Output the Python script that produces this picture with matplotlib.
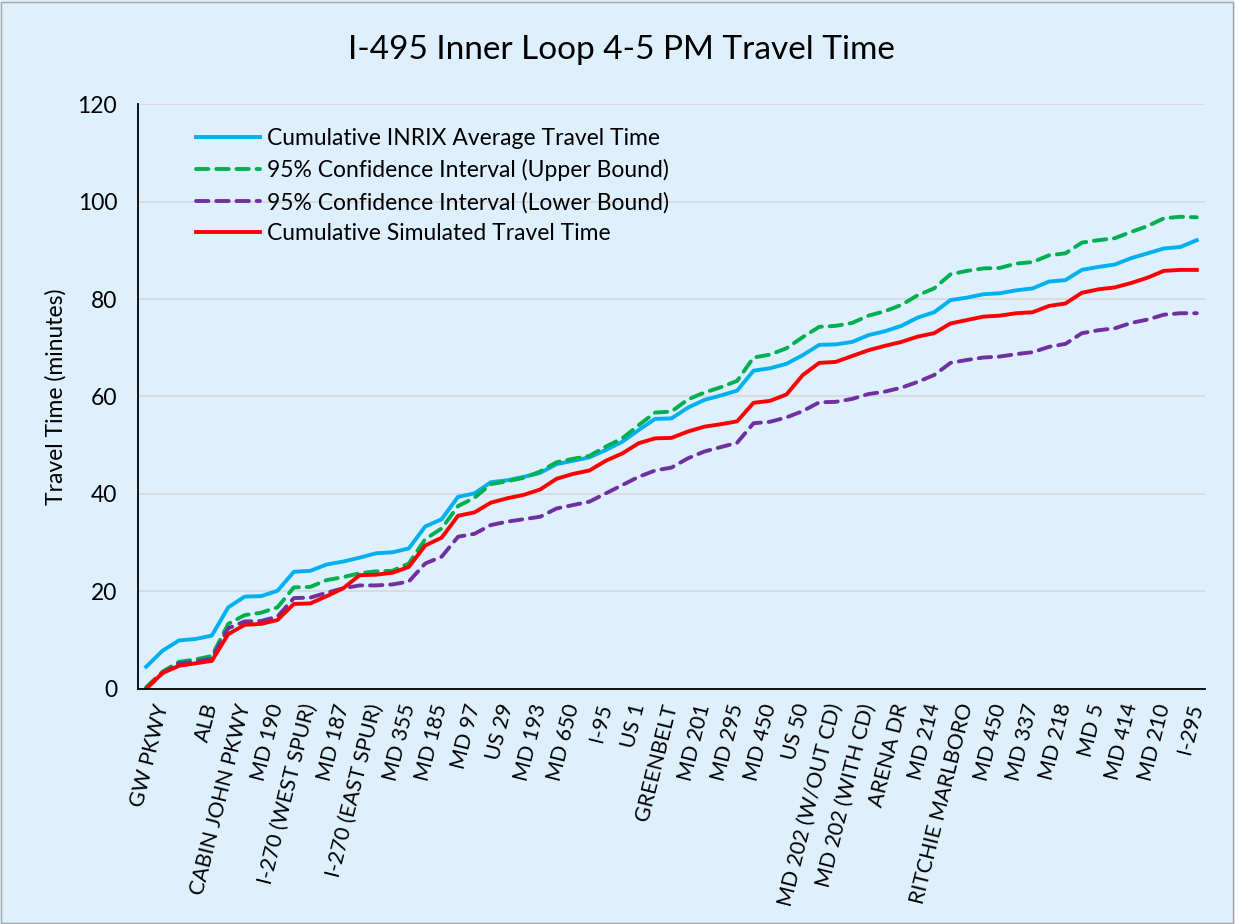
import matplotlib.pyplot as plt
from matplotlib.patches import Rectangle

# cumulative travel time (minutes) at each of the 65 segment boundaries
inrix_avg = [4.5, 7.8, 9.9, 10.2, 10.9, 16.7, 18.9, 19.0, 20.1, 24.0,
             24.2, 25.5, 26.1, 26.9, 27.8, 28.0, 28.8, 33.3, 34.8, 39.4,
             40.1, 42.4, 42.8, 43.5, 44.3, 46.1, 46.8, 47.5, 49.0, 50.7,
             53.1, 55.4, 55.5, 57.7, 59.3, 60.2, 61.2, 65.3, 65.8, 66.7,
             68.5, 70.6, 70.7, 71.2, 72.6, 73.4, 74.5, 76.2, 77.3, 79.8,
             80.3, 81.0, 81.2, 81.8, 82.2, 83.6, 83.9, 86.0, 86.6, 87.1,
             88.4, 89.4, 90.4, 90.7, 92.1]
ci_upper = [0.3, 3.5, 5.5, 6.0, 6.7, 13.3, 15.1, 15.6, 16.7, 20.8,
            20.9, 22.3, 22.9, 23.7, 24.1, 24.2, 25.7, 30.7, 32.9, 37.5,
            39.2, 42.0, 42.6, 43.3, 44.6, 46.5, 47.2, 47.8, 49.7, 51.4,
            54.1, 56.7, 56.9, 59.4, 60.8, 61.9, 63.2, 68.0, 68.6, 69.9,
            72.2, 74.3, 74.5, 75.1, 76.6, 77.5, 78.8, 80.8, 82.2, 85.1,
            85.8, 86.3, 86.4, 87.3, 87.6, 89.0, 89.4, 91.6, 92.1, 92.5,
            93.8, 95.0, 96.6, 96.9, 96.8]
ci_lower = [0.0, 3.2, 5.2, 5.5, 6.2, 12.4, 13.8, 13.9, 14.8, 18.6,
            18.7, 19.7, 20.6, 21.2, 21.2, 21.4, 22.0, 25.7, 27.1, 31.2,
            31.8, 33.6, 34.3, 34.8, 35.3, 37.0, 37.7, 38.4, 40.1, 41.8,
            43.5, 44.8, 45.4, 47.3, 48.7, 49.6, 50.5, 54.5, 54.8, 55.7,
            57.0, 58.8, 58.9, 59.5, 60.5, 61.0, 61.8, 63.0, 64.4, 66.9,
            67.5, 68.0, 68.2, 68.7, 69.1, 70.2, 70.8, 73.0, 73.6, 74.0,
            75.1, 75.8, 76.8, 77.1, 77.1]
simulated = [0.0, 3.2, 4.7, 5.2, 5.7, 11.2, 13.1, 13.3, 14.1, 17.4,
             17.5, 19.0, 20.6, 23.3, 23.4, 23.8, 25.0, 29.4, 31.0, 35.5,
             36.2, 38.2, 39.1, 39.8, 40.9, 43.1, 44.1, 44.8, 46.8, 48.3,
             50.4, 51.4, 51.5, 52.8, 53.8, 54.3, 54.9, 58.7, 59.1, 60.4,
             64.4, 66.9, 67.1, 68.3, 69.5, 70.4, 71.2, 72.3, 73.0, 75.0,
             75.7, 76.4, 76.6, 77.1, 77.3, 78.6, 79.1, 81.3, 82.0, 82.4,
             83.3, 84.4, 85.8, 86.0, 86.0]

# interchange names and the segment index they sit on
interchange_idx = [1, 4, 6, 8, 10, 12, 14, 16, 18, 20, 22, 24, 26, 28, 30, 32,
                   34, 36, 38, 40, 42, 44, 46, 48, 50, 52, 54, 56, 58, 60, 62, 64]
interchanges = ['GW PKWY', 'ALB', 'CABIN JOHN PKWY', 'MD 190', 'I-270 (WEST SPUR)',
                'MD 187', 'I-270 (EAST SPUR)', 'MD 355', 'MD 185', 'MD 97', 'US 29',
                'MD 193', 'MD 650', 'I-95', 'US 1', 'GREENBELT', 'MD 201', 'MD 295',
                'MD 450', 'US 50', 'MD 202 (W/OUT CD)', 'MD 202 (WITH CD)', 'ARENA DR',
                'MD 214', 'RITCHIE MARLBORO', 'MD 450', 'MD 337', 'MD 218', 'MD 5',
                'MD 414', 'MD 210', 'I-295']

plt.rcParams['font.family'] = ['Lato', 'DejaVu Sans']
bg = '#DEEFFD'

fig = plt.figure(figsize=(12.35, 9.24), dpi=100, facecolor=bg)
fig.patches.append(Rectangle((0.001, 0.001), 0.997, 0.997, transform=fig.transFigure,
                             fill=False, edgecolor='#A6A6A6', linewidth=1))
ax = fig.add_axes([0.1117, 0.2547, 0.864, 0.6324], facecolor=bg)

x = list(range(len(inrix_avg)))
lw = 2.8
ax.plot(x, inrix_avg, color='#00B0F0', lw=lw, label='Cumulative INRIX Average Travel Time')
ax.plot(x, ci_upper, color='#00B050', lw=lw, dashes=(3.2, 2.0), dash_capstyle='round',
        label='95% Confidence Interval (Upper Bound)')
ax.plot(x, ci_lower, color='#7030A0', lw=lw, dashes=(3.2, 2.0), dash_capstyle='round',
        label='95% Confidence Interval (Lower Bound)')
ax.plot(x, simulated, color='#FF0000', lw=lw, label='Cumulative Simulated Travel Time')

ax.set_xlim(-0.5, len(x) - 0.5)
ax.set_ylim(0, 120)
ax.set_yticks(range(0, 121, 20))
ax.yaxis.grid(True, color='#D9D9D9', lw=1.3)
ax.set_axisbelow(True)

ax.set_xticks(interchange_idx)
ax.set_xticklabels(interchanges, rotation=76, ha='right', va='center',
                   rotation_mode='anchor', fontsize=15.3)
ax.tick_params(axis='x', length=0, pad=11)
ax.tick_params(axis='y', length=0, pad=15, labelsize=16.5)

for side in ['top', 'right']:
    ax.spines[side].set_visible(False)
ax.spines['left'].set_color('#000000')
ax.spines['bottom'].set_color('#000000')
ax.spines['left'].set_linewidth(1.3)
ax.spines['bottom'].set_linewidth(1.3)

ax.set_ylabel('Travel Time (minutes)', fontsize=16.5, labelpad=8)
fig.text(0.503, 0.946, 'I-495 Inner Loop 4-5 PM Travel Time', ha='center', va='center',
         fontsize=24)

ax.legend(loc='upper left', bbox_to_anchor=(0.035, 0.995), frameon=False,
          fontsize=16.5, handlelength=2.8, handletextpad=0.3, labelspacing=0.45)

fig.savefig('out.png', dpi=100, facecolor=bg)
